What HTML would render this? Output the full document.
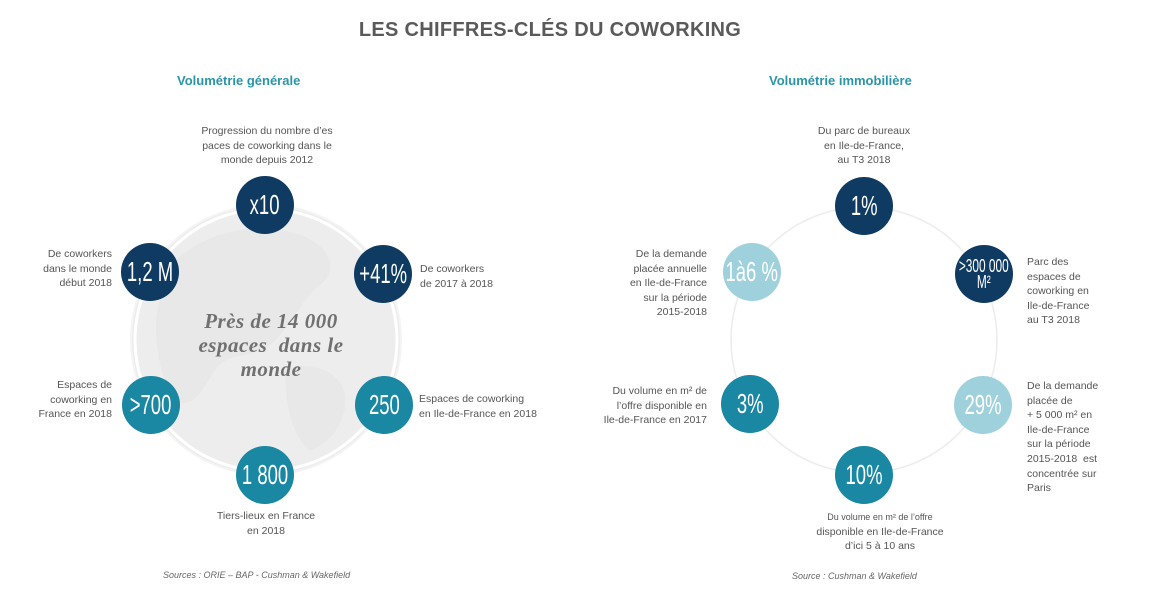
<!DOCTYPE html>
<html><head><meta charset="utf-8"><style>
*{margin:0;padding:0;box-sizing:border-box}
body{width:1170px;height:595px;background:#fff;position:relative;overflow:hidden;font-family:"Liberation Sans",sans-serif;color:#555}
.a{position:absolute;white-space:nowrap}
.t{font-size:10.5px;line-height:14.6px;color:#555}
.c{position:absolute;width:58px;height:58px;border-radius:50%;display:flex;align-items:center;justify-content:center;color:#fff;font-size:28px;white-space:nowrap}
.c span{display:inline-block;transform:scaleX(0.66);text-align:center}
.n{background:#0f3b62}.m{background:#1a87a3}.l{background:#9fd1dd}
h1{position:absolute;left:0;width:1100px;top:19px;text-align:center;font-size:20px;font-weight:bold;color:#5a5a5a;letter-spacing:0.3px}
h2{position:absolute;font-size:13px;font-weight:bold;color:#2a95a8}
.s{position:absolute;font-size:9px;font-style:italic;color:#666}
</style></head><body>
<h1>LES CHIFFRES-CLÉS DU COWORKING</h1>
<h2 style="left:177px;top:73px">Volumétrie générale</h2>
<h2 style="left:769px;top:73px">Volumétrie immobilière</h2>

<svg class="a" style="left:0;top:0" width="1170" height="595">
<circle cx="266" cy="340" r="135" fill="#ededed" stroke="#f4f4f4" stroke-width="2"/>
<circle cx="266" cy="340" r="131" fill="none" stroke="#fff" stroke-width="3"/>
<path d="M175 260 C210 230 260 220 300 235 C330 245 340 270 320 285 C300 300 290 330 270 345 C250 360 230 350 215 370 C200 395 190 410 175 400 C160 380 150 330 160 300 Z" fill="#e8e8e8"/>
<path d="M285 370 C310 360 340 370 345 395 C348 420 330 445 310 450 C295 440 285 410 285 370 Z" fill="#e8e8e8"/>
<circle cx="864" cy="340" r="133" fill="none" stroke="#ececec" stroke-width="1.5"/>
</svg>

<div class="a" style="left:176px;top:309px;width:190px;text-align:center;font-family:'Liberation Serif',serif;font-style:italic;font-weight:bold;font-size:21px;line-height:24px;color:#707070;letter-spacing:0.5px">Près de 14 000<br>espaces&nbsp; dans le<br>monde</div>

<div class="c n" style="left:236px;top:176px"><span>x10</span></div>
<div class="c n" style="left:121px;top:243px"><span>1,2 M</span></div>
<div class="c n" style="left:354px;top:245px"><span>+41%</span></div>
<div class="c m" style="left:122px;top:376px"><span>&gt;700</span></div>
<div class="c m" style="left:355px;top:376px"><span>250</span></div>
<div class="c m" style="left:236px;top:446px"><span>1 800</span></div>

<div class="a t" style="left:190px;top:124px;width:154px;text-align:center">Progression du nombre d’es<br>paces de coworking dans le<br>monde depuis 2012</div>
<div class="a t" style="left:20px;top:247px;width:92px;text-align:right">De coworkers<br>dans le monde<br>début 2018</div>
<div class="a t" style="left:420px;top:262px">De coworkers<br>de 2017 à 2018</div>
<div class="a t" style="left:20px;top:378px;width:92px;text-align:right">Espaces de<br>coworking en<br>France en 2018</div>
<div class="a t" style="left:419px;top:392px">Espaces de coworking<br>en Ile-de-France en 2018</div>
<div class="a t" style="left:200px;top:509px;width:132px;text-align:center">Tiers-lieux en France<br>en 2018</div>
<div class="s" style="left:163px;top:570px">Sources : ORIE – BAP - Cushman &amp; Wakefield</div>

<div class="c n" style="left:835px;top:177px"><span>1%</span></div>
<div class="c l" style="left:723px;top:243px"><span>1à6 %</span></div>
<div class="c n" style="left:955px;top:245px;font-size:18px;line-height:16px"><span>&gt;300 000<br>M²</span></div>
<div class="c m" style="left:721px;top:375px"><span>3%</span></div>
<div class="c l" style="left:954px;top:376px"><span>29%</span></div>
<div class="c m" style="left:835px;top:446px"><span>10%</span></div>

<div class="a t" style="left:790px;top:124px;width:148px;text-align:center">Du parc de bureaux<br>en Ile-de-France,<br>au T3 2018</div>
<div class="a t" style="left:600px;top:247px;width:107px;text-align:right">De la demande<br>placée annuelle<br>en Ile-de-France<br>sur la période<br>2015-2018</div>
<div class="a t" style="left:1027px;top:255px">Parc des<br>espaces de<br>coworking en<br>Ile-de-France<br>au T3 2018</div>
<div class="a t" style="left:590px;top:384px;width:117px;text-align:right">Du volume en m² de<br>l’offre disponible en<br>Ile-de-France en 2017</div>
<div class="a t" style="left:1027px;top:379px">De la demande<br>placée de<br>+ 5 000 m² en<br>Ile-de-France<br>sur la période<br>2015-2018&nbsp; est<br>concentrée sur<br>Paris</div>
<div class="a t" style="left:800px;top:510px;width:160px;text-align:center"><span style="font-size:9px">Du volume en m² de l’offre</span><br>disponible en Ile-de-France<br>d’ici 5 à 10 ans</div>
<div class="s" style="left:792px;top:571px">Source : Cushman &amp; Wakefield</div>
</body></html>
